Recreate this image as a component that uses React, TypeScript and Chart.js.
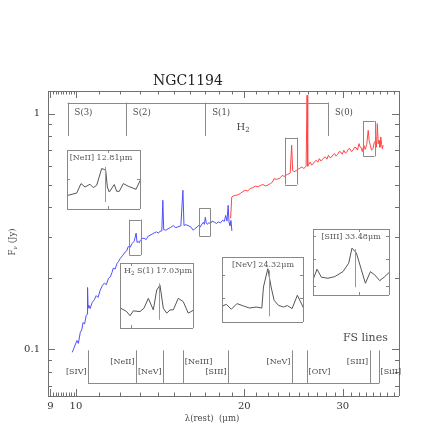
import React, { useEffect, useRef } from 'react';
import { Chart, registerables } from 'chart.js';
Chart.register(...registerables);

// ---------------- main spectrum data ----------------
const blueWl = [9.85, 9.93, 10.04, 10.10, 10.18, 10.24, 10.30, 10.36, 10.43, 10.47, 10.49, 10.51, 10.54, 10.60, 10.69, 10.78, 10.87, 10.95, 11.05, 11.14, 11.24, 11.33, 11.43, 11.52, 11.60, 11.66, 11.75, 11.84, 11.92, 12.00, 12.10, 12.25, 12.33, 12.40, 12.50, 12.59, 12.71, 12.81, 12.86, 12.92, 12.98, 13.03, 13.13, 13.24, 13.35, 13.46, 13.57, 13.68, 13.80, 13.94, 14.04, 14.13, 14.24, 14.30, 14.35, 14.48, 14.61, 14.77, 14.93, 15.08, 15.22, 15.40, 15.53, 15.60, 15.72, 15.86, 16.03, 16.21, 16.33, 16.46, 16.58, 16.67, 16.80, 16.89, 16.97, 17.03, 17.10, 17.18, 17.28, 17.39, 17.52, 17.68, 17.83, 17.98, 18.13, 18.29, 18.42, 18.52, 18.62, 18.71, 18.78, 18.85, 18.93, 19.00];
const blueFlux = [0.0971, 0.102, 0.109, 0.106, 0.118, 0.121, 0.130, 0.128, 0.139, 0.141, 0.183, 0.150, 0.154, 0.149, 0.158, 0.162, 0.169, 0.166, 0.178, 0.186, 0.191, 0.188, 0.200, 0.203, 0.212, 0.221, 0.219, 0.231, 0.236, 0.243, 0.249, 0.259, 0.262, 0.273, 0.271, 0.281, 0.287, 0.311, 0.284, 0.287, 0.283, 0.290, 0.295, 0.296, 0.292, 0.302, 0.305, 0.308, 0.312, 0.315, 0.311, 0.317, 0.318, 0.429, 0.322, 0.320, 0.325, 0.329, 0.335, 0.328, 0.331, 0.334, 0.473, 0.335, 0.338, 0.335, 0.331, 0.320, 0.326, 0.330, 0.336, 0.330, 0.340, 0.346, 0.339, 0.363, 0.344, 0.339, 0.345, 0.341, 0.350, 0.346, 0.342, 0.347, 0.344, 0.353, 0.349, 0.370, 0.350, 0.408, 0.345, 0.335, 0.352, 0.318];

const redWl = [18.90, 18.99, 19.10, 19.26, 19.45, 19.66, 19.85, 20.07, 20.28, 20.49, 20.70, 20.92, 21.15, 21.37, 21.60, 21.82, 22.05, 22.28, 22.45, 22.59, 22.80, 23.06, 23.20, 23.38, 23.55, 23.71, 23.88, 24.04, 24.15, 24.30, 24.40, 24.55, 24.81, 25.05, 25.33, 25.55, 25.79, 25.89, 25.96, 26.10, 26.22, 26.38, 26.55, 26.72, 26.89, 27.05, 27.23, 27.40, 27.57, 27.75, 27.92, 28.10, 28.27, 28.45, 28.64, 28.82, 29.00, 29.18, 29.37, 29.55, 29.75, 29.93, 30.12, 30.30, 30.50, 30.70, 30.89, 31.08, 31.28, 31.48, 31.67, 31.86, 32.06, 32.20, 32.35, 32.50, 32.70, 32.90, 33.10, 33.30, 33.45, 33.59, 33.75, 33.96, 34.15, 34.33, 34.45, 34.57, 34.70, 34.82, 34.95, 35.07, 35.20, 35.31, 35.41];
const redFlux = [0.360, 0.443, 0.447, 0.450, 0.452, 0.458, 0.466, 0.473, 0.470, 0.481, 0.485, 0.492, 0.489, 0.496, 0.500, 0.493, 0.498, 0.505, 0.512, 0.530, 0.526, 0.530, 0.535, 0.547, 0.541, 0.547, 0.552, 0.556, 0.560, 0.734, 0.575, 0.566, 0.575, 0.584, 0.593, 0.585, 0.598, 1.196, 0.598, 0.611, 0.623, 0.605, 0.613, 0.627, 0.634, 0.622, 0.644, 0.630, 0.638, 0.650, 0.655, 0.641, 0.666, 0.650, 0.655, 0.670, 0.676, 0.660, 0.672, 0.690, 0.687, 0.672, 0.699, 0.680, 0.687, 0.708, 0.710, 0.690, 0.699, 0.720, 0.717, 0.700, 0.746, 0.722, 0.717, 0.690, 0.735, 0.705, 0.740, 0.849, 0.760, 0.734, 0.700, 0.710, 0.755, 0.770, 0.720, 0.907, 0.745, 0.770, 0.720, 0.796, 0.740, 0.710, 0.734];

// ---------------- axes ----------------
const X_MIN = 8.913;
const X_MAX = 37.8;
const Y_MIN = 0.0634;
const Y_MAX = 1.247;
const xLabelTicks = [9, 10, 20, 30];
const xMajorTicks = [9, 10, 20, 30];
const xMinorTicks = [9.1, 9.2, 9.3, 9.4, 9.5, 9.6, 9.7, 9.8, 9.9, 11, 12, 13, 14, 15, 16, 17, 18, 19, 21, 22, 23, 24, 25, 26, 27, 28, 29, 31, 32, 33, 34, 35, 36, 37];
const yLabelTicks = [0.1, 1];
const yMajorTicks = [0.1, 1];
const yMinorTicks = [0.07, 0.08, 0.09, 0.2, 0.3, 0.4, 0.5, 0.6, 0.7, 0.8, 0.9];

// ---------------- annotations ----------------
const h2Names = ['S(3)', 'S(2)', 'S(1)', 'S(0)'];
const h2Wl = [9.66, 12.28, 17.03, 28.22];
const fsNames = ['[SIV]', '[NeII]', '[NeV]', '[NeIII]', '[SIII]', '[NeV]', '[OIV]', '[SIII]', '[SiII]'];
const fsWl = [10.51, 12.81, 14.32, 15.56, 18.71, 24.32, 25.89, 33.48, 34.82];
const fsSide = ['left', 'left', 'left', 'right', 'left', 'left', 'right', 'left', 'right'];
const fsHigh = [false, true, false, true, false, true, false, true, false];
const boxWlLo = [12.46, 16.62, 23.66, 32.63];
const boxWlHi = [13.06, 17.39, 24.83, 34.18];
const boxFluxLo = [0.251, 0.302, 0.500, 0.659];
const boxFluxHi = [0.355, 0.397, 0.791, 0.930];

// ---------------- inset spectra ----------------
const neIIWl = [12.408, 12.505, 12.551, 12.595, 12.649, 12.684, 12.721, 12.775, 12.818, 12.836, 12.857, 12.911, 12.937, 12.965, 13.009, 13.063, 13.146, 13.192];
const neIIFlux = [0.244, 0.282, 0.440, 0.383, 0.429, 0.373, 0.412, 0.692, 0.664, 0.383, 0.299, 0.424, 0.311, 0.311, 0.440, 0.395, 0.345, 0.496];
const h2S1Wl = [16.613, 16.677, 16.713, 16.749, 16.821, 16.864, 16.911, 16.965, 17.002, 17.037, 17.073, 17.110, 17.146, 17.181, 17.235, 17.289, 17.343, 17.405];
const h2S1Flux = [0.315, 0.264, 0.200, 0.275, 0.264, 0.315, 0.465, 0.290, 0.590, 0.665, 0.315, 0.240, 0.290, 0.290, 0.465, 0.414, 0.240, 0.290];
const neVWl = [23.800, 23.847, 23.902, 23.964, 24.036, 24.102, 24.175, 24.237, 24.255, 24.303, 24.339, 24.372, 24.419, 24.474, 24.517, 24.569, 24.627, 24.700];
const neVFlux = [0.253, 0.283, 0.208, 0.294, 0.258, 0.227, 0.242, 0.227, 0.545, 0.824, 0.545, 0.344, 0.268, 0.242, 0.264, 0.218, 0.420, 0.212];
const sIIIWl = [32.720, 32.793, 32.873, 32.993, 33.115, 33.265, 33.369, 33.429, 33.509, 33.600, 33.673, 33.764, 33.842, 33.933, 34.024, 34.120];
const sIIIFlux = [0.240, 0.400, 0.280, 0.265, 0.289, 0.364, 0.490, 0.715, 0.640, 0.390, 0.190, 0.364, 0.315, 0.229, 0.289, 0.364];

type Inset = {
  title: [string, boolean][]; wl: number[]; flux: number[];
  xMin: number; xMax: number; lineWl: number; redLo: number; redHi: number;
  xTicks: number[]; yTicks: number[];
  left: number; top: number; w: number; h: number; titleCx: number;
};

const insets: Inset[] = [
  { title: [['[NeII] 12.81\u03bcm', false]], wl: neIIWl, flux: neIIFlux, xMin: 12.40, xMax: 13.20, lineWl: 12.81, redLo: 0.131, redHi: 0.719, xTicks: [12.84], yTicks: [0.51], left: 67, top: 150, w: 74, h: 60, titleCx: 34 },
  { title: [['H', false], ['2', true], [' S(1) 17.03\u03bcm', false]], wl: h2S1Wl, flux: h2S1Flux, xMin: 16.605, xMax: 17.405, lineWl: 17.03, redLo: 0.140, redHi: 0.691, xTicks: [16.72], yTicks: [], left: 120, top: 263, w: 74, h: 66, titleCx: 38 },
  { title: [['[NeV] 24.32\u03bcm', false]], wl: neVWl, flux: neVFlux, xMin: 23.80, xMax: 24.70, lineWl: 24.32, redLo: 0.102, redHi: 0.798, xTicks: [], yTicks: [0.385, 0.72], left: 222, top: 257, w: 82, h: 66, titleCx: 41 },
  { title: [['[SIII] 33.48\u03bcm', false]], wl: sIIIWl, flux: sIIIFlux, xMin: 32.72, xMax: 34.12, lineWl: 33.484, redLo: 0.130, redHi: 0.700, xTicks: [33.55], yTicks: [0.155, 0.55, 0.9], left: 313, top: 229, w: 77, h: 67, titleCx: 38 },
];

const FONT = '"DejaVu Serif", serif';
const AXIS = '#707070';
const TXT = '#4a4a4a';

function drawRich(ctx: CanvasRenderingContext2D, parts: [string, boolean][], x: number, y: number, size: number, align: 'left' | 'center' | 'right') {
  const f = (s: number) => `${s}px ${FONT}`;
  let total = 0;
  const widths = parts.map(([t, sub]) => {
    ctx.font = f(sub ? size * 0.7 : size);
    const w = ctx.measureText(t).width;
    total += w;
    return w;
  });
  let cx = align === 'left' ? x : align === 'center' ? x - total / 2 : x - total;
  ctx.textAlign = 'left';
  ctx.textBaseline = 'middle';
  parts.forEach(([t, sub], i) => {
    ctx.font = f(sub ? size * 0.7 : size);
    ctx.fillText(t, cx, sub ? y + size * 0.35 : y);
    cx += widths[i];
  });
}

function seg(ctx: CanvasRenderingContext2D, x1: number, y1: number, x2: number, y2: number) {
  const r = (v: number) => Math.round(v) + 0.5;
  ctx.beginPath();
  ctx.moveTo(x1 === x2 ? r(x1) : x1, y1 === y2 ? r(y1) : y1);
  ctx.lineTo(x1 === x2 ? r(x2) : x2, y1 === y2 ? r(y2) : y2);
  ctx.stroke();
}

const decorPlugin = {
  id: 'decor',
  afterDraw(chart: any) {
    const { ctx, chartArea: a, scales } = chart;
    const X = (v: number) => scales.x.getPixelForValue(v);
    const Y = (v: number) => scales.y.getPixelForValue(v);
    ctx.save();
    ctx.strokeStyle = AXIS;
    ctx.lineWidth = 1;
    // frame
    seg(ctx, a.left, a.top, a.right, a.top);
    seg(ctx, a.left, a.bottom, a.right, a.bottom);
    seg(ctx, a.left, a.top, a.left, a.bottom);
    seg(ctx, a.right, a.top, a.right, a.bottom);
    // ticks (inward)
    const xt = (v: number, len: number) => {
      const p = X(v);
      seg(ctx, p, a.bottom, p, a.bottom - len);
      seg(ctx, p, a.top, p, a.top + len);
    };
    const yt = (v: number, len: number) => {
      const p = Y(v);
      seg(ctx, a.left, p, a.left + len, p);
      seg(ctx, a.right, p, a.right - len, p);
    };
    xMajorTicks.forEach(v => xt(v, 7));
    xMinorTicks.forEach(v => xt(v, 3.5));
    yMajorTicks.forEach(v => yt(v, 7));
    yMinorTicks.forEach(v => yt(v, 4));

    ctx.fillStyle = '#222';
    // title
    ctx.font = `14px ${FONT}`;
    ctx.textAlign = 'center';
    ctx.textBaseline = 'middle';
    ctx.fillText('NGC1194', 188, 81);

    ctx.fillStyle = TXT;
    // axis titles
    drawRich(ctx, [['\u03bb(rest)  (\u03bcm)', false]], 212, 419, 8.5, 'center');
    ctx.save();
    ctx.translate(12.5, 242);
    ctx.rotate(-Math.PI / 2);
    drawRich(ctx, [['F', false], ['\u03bd', true], [' (Jy)', false]], 0, 0, 8.5, 'center');
    ctx.restore();

    // H2 bracket
    const h2Top = Y(1.113);
    const h2Bot = Y(0.804);
    ctx.strokeStyle = '#8a8a8a';
    seg(ctx, X(h2Wl[0]), h2Top, X(h2Wl[h2Wl.length - 1]), h2Top);
    h2Wl.forEach((w, i) => {
      seg(ctx, X(w), h2Top, X(w), h2Bot);
      drawRich(ctx, [[h2Names[i], false]], X(w) + 7, Y(1.01), 8.5, 'left');
    });
    drawRich(ctx, [['H', false], ['2', true]], X(19.9), Y(0.877), 10, 'center');

    // FS lines bracket
    const fsBase = Y(0.0717);
    const fsTop = Y(0.099);
    seg(ctx, X(fsWl[0]), fsBase, X(fsWl[fsWl.length - 1]), fsBase);
    fsWl.forEach((w, i) => {
      seg(ctx, X(w), fsBase, X(w), fsTop);
      const yy = Y(fsHigh[i] ? 0.0881 : 0.0799);
      if (fsSide[i] === 'left') drawRich(ctx, [[fsNames[i], false]], X(w) - 1.5, yy, 8, 'right');
      else drawRich(ctx, [[fsNames[i], false]], X(w) + 1.5, yy, 8, 'left');
    });
    drawRich(ctx, [['FS lines', false]], X(36.1), Y(0.112), 11, 'right');

    // boxes around lines
    ctx.strokeStyle = '#8a8a8a';
    boxWlLo.forEach((lo, i) => {
      const x1 = X(lo), x2 = X(boxWlHi[i]);
      const y1 = Y(boxFluxHi[i]), y2 = Y(boxFluxLo[i]);
      seg(ctx, x1, y1, x2, y1);
      seg(ctx, x1, y2, x2, y2);
      seg(ctx, x1, y1, x1, y2);
      seg(ctx, x2, y1, x2, y2);
    });
    ctx.restore();
  },
};

function mainConfig(): any {
  return {
    type: 'line',
    data: {
      datasets: [
        { data: blueWl.map((x, i) => ({ x, y: blueFlux[i] })), borderColor: '#4f4fff', borderWidth: 1, pointRadius: 0, tension: 0, fill: false },
        { data: redWl.map((x, i) => ({ x, y: redFlux[i] })), borderColor: '#ff4545', borderWidth: 1, pointRadius: 0, tension: 0, fill: false },
      ],
    },
    options: {
      responsive: false,
      animation: false,
      devicePixelRatio: 1,
      layout: { padding: { top: 91, right: 37, left: 0, bottom: 0 } },
      plugins: { legend: { display: false }, tooltip: { enabled: false }, title: { display: false } },
      scales: {
        x: {
          type: 'logarithmic', min: X_MIN, max: X_MAX, position: 'bottom',
          grid: { display: false, drawTicks: false }, border: { display: false },
          afterBuildTicks: (s: any) => { s.ticks = xLabelTicks.map(v => ({ value: v })); },
          ticks: { callback: (v: any) => String(v), color: '#333', font: { family: FONT, size: 10 }, padding: 4, autoSkip: false, maxRotation: 0 },
          afterFit: (s: any) => { s.height = 40; },
        },
        y: {
          type: 'logarithmic', min: Y_MIN, max: Y_MAX, position: 'left',
          grid: { display: false, drawTicks: false }, border: { display: false },
          afterBuildTicks: (s: any) => { s.ticks = yLabelTicks.map(v => ({ value: v })); },
          ticks: { callback: (v: any) => String(v), color: '#333', font: { family: FONT, size: 10 }, padding: 8, autoSkip: false },
          afterFit: (s: any) => { s.width = 48; },
        },
      },
    },
    plugins: [decorPlugin],
  };
}

function insetConfig(ins: Inset): any {
  const insetPlugin = {
    id: 'insetDecor',
    afterDraw(chart: any) {
      const { ctx, chartArea: a, scales } = chart;
      const X = (v: number) => scales.x.getPixelForValue(v);
      const Y = (v: number) => scales.y.getPixelForValue(v);
      ctx.save();
      ctx.strokeStyle = '#888';
      ctx.lineWidth = 1;
      const l = a.left, r = a.right - 1, t = a.top, b = a.bottom - 1;
      seg(ctx, l, t, r, t);
      seg(ctx, l, b, r, b);
      seg(ctx, l, t, l, b);
      seg(ctx, r, t, r, b);
      ins.xTicks.forEach(v => { seg(ctx, X(v), b, X(v), b - 3); seg(ctx, X(v), t, X(v), t + 3); });
      ins.yTicks.forEach(v => { seg(ctx, l, Y(v), l + 3, Y(v)); seg(ctx, r, Y(v), r - 3, Y(v)); });
      ctx.strokeStyle = '#ff6a6a';
      seg(ctx, X(ins.lineWl), Y(ins.redHi), X(ins.lineWl), Y(ins.redLo));
      ctx.fillStyle = '#555';
      drawRich(ctx, ins.title, a.left + ins.titleCx, a.top + 7.5, 8, 'center');
      ctx.restore();
    },
  };
  return {
    type: 'line',
    data: {
      datasets: [
        { data: ins.wl.map((x, i) => ({ x, y: ins.flux[i] })), borderColor: '#555', borderWidth: 1, pointRadius: 0, tension: 0, fill: false },
      ],
    },
    options: {
      responsive: false,
      animation: false,
      devicePixelRatio: 1,
      layout: { padding: 1 },
      plugins: { legend: { display: false }, tooltip: { enabled: false } },
      scales: {
        x: { type: 'linear', display: false, min: ins.xMin, max: ins.xMax },
        y: { type: 'linear', display: false, min: 0, max: 1 },
      },
    },
    plugins: [insetPlugin],
  };
}

export default function App() {
  const mainRef = useRef<HTMLCanvasElement | null>(null);
  const insetRefs = useRef<(HTMLCanvasElement | null)[]>([]);
  useEffect(() => {
    const charts: Chart[] = [];
    if (mainRef.current) charts.push(new Chart(mainRef.current, mainConfig()));
    insets.forEach((ins, i) => {
      const c = insetRefs.current[i];
      if (c) charts.push(new Chart(c, insetConfig(ins)));
    });
    return () => charts.forEach(c => c.destroy());
  }, []);
  return (
    <div style={{ position: 'fixed', left: 0, top: 0, width: 436, height: 436, background: '#fff' }}>
      <canvas ref={mainRef} width={436} height={436} style={{ position: 'absolute', left: 0, top: 0, width: 436, height: 436 }} />
      {insets.map((ins, i) => (
        <canvas
          key={i}
          ref={el => { insetRefs.current[i] = el; }}
          width={ins.w + 2}
          height={ins.h + 2}
          style={{ position: 'absolute', left: ins.left - 1, top: ins.top - 1, width: ins.w + 2, height: ins.h + 2 }}
        />
      ))}
    </div>
  );
}
